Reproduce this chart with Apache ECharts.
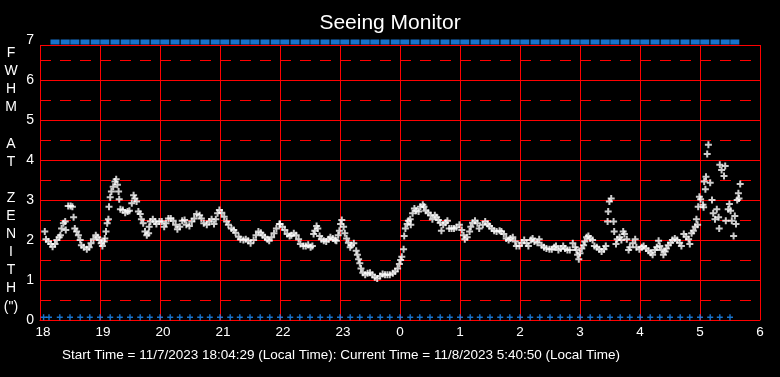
<!DOCTYPE html>
<html>
<head>
<meta charset="utf-8">
<script src="https://cdn.jsdelivr.net/npm/echarts@6/dist/echarts.min.js"></script>
<style>
html,body{margin:0;padding:0;background:#000;}
#chart{width:780px;height:377px;}
</style>
</head>
<body>
<div id="chart"></div>
<script>
// ---- data (x = hours since midnight of start day, 18..30 => 18:00 .. 06:00) ----
const xTickLabels = ['18','19','20','21','22','23','0','1','2','3','4','5','6'];
const yTickLabels = ['0','1','2','3','4','5','6','7'];
const titleText = 'Seeing Monitor';
const yTitleLines = ['F','W','H','M','','A','T','','Z','E','N','I','T','H','(")'];
const footerText = 'Start Time = 11/7/2023 18:04:29 (Local Time): Current Time = 11/8/2023 5:40:50 (Local Time)';

// FWHM seeing samples [time (h), FWHM (arcsec)]
const seeingPoints = [
[18.08,2.21],[18.10,2.02],[18.14,1.96],[18.18,1.90],[18.21,1.83],[18.25,1.90],[18.28,2.00],[18.32,2.07],[18.34,2.12],[18.36,2.29],
[18.39,2.42],[18.42,2.46],[18.43,2.25],[18.47,2.85],[18.51,2.85],[18.54,2.83],[18.56,2.57],[18.58,2.29],[18.61,2.21],[18.64,2.12],
[18.67,2.00],[18.69,1.87],[18.73,1.82],[18.78,1.77],[18.82,1.82],[18.85,1.92],[18.89,2.02],[18.93,2.12],[18.96,2.07],[18.99,2.00],
[19.02,1.92],[19.04,1.85],[19.07,1.96],[19.08,2.04],[19.10,2.21],[19.12,2.42],[19.14,2.52],[19.15,2.83],[19.17,3.07],[19.19,3.21],
[19.22,3.33],[19.25,3.46],[19.27,3.52],[19.29,3.38],[19.31,3.21],[19.32,3.02],[19.34,2.77],[19.38,2.75],[19.42,2.68],[19.46,2.71],
[19.49,2.73],[19.53,2.92],[19.56,3.12],[19.58,3.04],[19.61,2.96],[19.64,2.71],[19.67,2.65],[19.69,2.52],[19.72,2.42],[19.75,2.21],
[19.78,2.12],[19.81,2.17],[19.82,2.33],[19.84,2.46],[19.88,2.52],[19.92,2.46],[19.94,2.40],[19.99,2.46],[20.03,2.46],[20.07,2.33],
[20.10,2.42],[20.14,2.54],[20.18,2.54],[20.22,2.48],[20.26,2.38],[20.29,2.27],[20.33,2.33],[20.37,2.48],[20.41,2.50],[20.44,2.38],
[20.49,2.35],[20.53,2.46],[20.57,2.54],[20.61,2.65],[20.66,2.62],[20.69,2.54],[20.73,2.42],[20.78,2.38],[20.82,2.46],[20.86,2.52],
[20.90,2.40],[20.93,2.52],[20.96,2.67],[20.99,2.75],[21.03,2.68],[21.07,2.58],[21.11,2.46],[21.14,2.38],[21.19,2.29],[21.23,2.25],
[21.26,2.18],[21.31,2.08],[21.34,2.02],[21.39,2.00],[21.43,2.02],[21.47,1.98],[21.51,1.92],[21.56,2.00],[21.60,2.12],[21.64,2.21],
[21.68,2.18],[21.71,2.12],[21.75,2.07],[21.79,2.02],[21.82,1.98],[21.86,2.07],[21.90,2.17],[21.94,2.29],[21.99,2.40],
[22.00,2.40],[22.04,2.33],[22.08,2.25],[22.12,2.15],[22.16,2.10],[22.19,2.12],[22.23,2.17],[22.27,2.12],[22.31,2.02],[22.34,1.90],
[22.39,1.85],[22.43,1.85],[22.47,1.88],[22.51,1.82],[22.54,1.85],[22.56,2.15],[22.58,2.23],[22.61,2.35],[22.63,2.29],[22.66,2.10],
[22.69,2.02],[22.73,1.98],[22.77,1.96],[22.81,2.02],[22.84,2.07],[22.88,2.04],[22.92,2.00],[22.94,1.98],[22.97,2.12],[22.99,2.23],
[23.01,2.40],[23.03,2.50],[23.06,2.33],[23.08,2.17],[23.11,2.04],[23.14,1.93],[23.17,1.82],[23.19,1.87],[23.23,1.92],[23.27,1.73],
[23.29,1.63],[23.31,1.52],[23.33,1.42],[23.35,1.29],[23.38,1.18],[23.42,1.13],[23.46,1.17],[23.50,1.18],[23.54,1.13],[23.58,1.07],
[23.62,1.04],[23.67,1.10],[23.71,1.15],[23.75,1.13],[23.79,1.13],[23.83,1.13],[23.88,1.17],[23.92,1.21],[23.96,1.29],[23.99,1.40],
[24.01,1.50],[24.03,1.58],[24.06,1.77],[24.07,2.10],[24.09,2.29],[24.12,2.40],[24.14,2.48],[24.17,2.52],[24.18,2.38],[24.21,2.67],
[24.24,2.79],[24.27,2.73],[24.31,2.71],[24.34,2.83],[24.38,2.88],[24.40,2.83],[24.43,2.73],[24.47,2.68],[24.51,2.62],[24.54,2.52],
[24.58,2.62],[24.61,2.57],[24.64,2.50],[24.67,2.43],[24.69,2.23],[24.72,2.38],[24.76,2.43],[24.79,2.48],[24.82,2.29],[24.86,2.29],
[24.90,2.29],[24.94,2.32],[24.99,2.38],[25.03,2.25],[25.06,2.12],[25.08,2.02],[25.12,2.07],[25.16,2.21],[25.18,2.33],[25.21,2.43],
[25.25,2.48],[25.29,2.42],[25.32,2.29],
[25.38,2.38],[25.42,2.46],[25.46,2.40],[25.49,2.35],[25.53,2.29],[25.57,2.23],[25.61,2.21],[25.66,2.23],[25.69,2.21],[25.73,2.15],
[25.77,2.04],[25.81,2.00],[25.84,2.04],[25.88,2.07],[25.92,1.96],[25.94,1.85],[25.99,1.85],[26.03,1.93],[26.07,2.00],[26.11,1.92],
[26.14,1.85],[26.18,2.00],[26.21,2.04],[26.24,1.96],[26.29,1.93],[26.32,2.02],[26.36,1.87],[26.40,1.82],[26.44,1.79],[26.49,1.77],
[26.53,1.77],[26.57,1.82],[26.60,1.85],[26.64,1.75],[26.68,1.79],[26.72,1.85],[26.75,1.79],[26.79,1.75],[26.83,1.75],[26.88,1.92],
[26.92,1.82],[26.94,1.75],[26.96,1.63],[26.98,1.52],[27.00,1.67],[27.03,1.79],[27.06,1.87],[27.08,1.96],[27.11,2.07],[27.14,2.10],
[27.17,2.04],[27.21,2.00],[27.24,1.85],[27.28,1.82],[27.32,1.77],[27.36,1.71],[27.40,1.77],[27.43,1.85],[27.46,2.46],[27.47,2.71],
[27.49,2.96],[27.52,3.04],[27.56,2.46],[27.57,2.21],[27.60,1.90],[27.62,2.02],[27.66,2.07],[27.69,2.00],[27.72,2.21],[27.74,2.15],
[27.78,2.02],[27.81,1.75],[27.83,1.82],[27.88,1.92],[27.92,2.02],[27.94,1.82],[27.99,1.77],[28.03,1.82],[28.06,1.85],[28.10,1.79],
[28.14,1.73],[28.18,1.68],[28.21,1.63],[28.25,1.75],[28.28,1.82],[28.31,1.98],[28.33,1.85],[28.36,1.75],[28.39,1.63],[28.42,1.71],
[28.44,1.79],[28.47,1.87],[28.51,1.93],[28.54,2.00],[28.58,2.04],[28.62,2.00],[28.66,1.93],[28.69,1.85],[28.73,2.15],[28.77,2.08],
[28.81,2.02],[28.83,1.90],[28.86,2.17],[28.89,2.23],[28.92,2.33],[28.94,2.52],[28.96,2.38],[28.97,2.83],[28.99,3.08],[29.01,3.02],
[29.05,2.88],[29.06,2.82],[29.07,3.46],[29.09,3.27],[29.10,3.58],[29.12,4.15],[29.14,4.38],[29.17,3.43],[29.20,3.00],[29.22,2.67],
[29.25,2.52],[29.28,2.77],[29.31,2.57],[29.32,2.29],[29.33,3.88],[29.36,3.75],[29.40,3.60],[29.42,3.85],[29.43,2.48],[29.47,2.77],
[29.49,2.90],[29.51,2.73],[29.53,2.48],[29.56,2.10],[29.58,2.60],[29.60,2.40],[29.62,3.00],[29.64,3.17],[29.65,3.04],[29.67,3.40]
];

// status flags plotted along the top and bottom edges (times in h)
const topFlagLevel = 6.95;
const topFlagTimes = [18.25,18.42,18.58,18.75,18.92,19.08,19.25,19.42,19.58,19.75,19.92,20.08,20.25,20.42,20.58,20.75,20.92,21.08,21.25,21.42,21.58,21.75,21.92,22.08,22.25,22.42,22.58,22.75,22.92,23.08,23.25,23.42,23.58,23.75,23.92,24.08,24.25,24.42,24.58,24.75,24.92,25.08,25.25,25.42,25.58,25.75,25.92,26.08,26.25,26.42,26.58,26.75,26.92,27.08,27.25,27.42,27.58,27.75,27.92,28.08,28.25,28.42,28.58,28.75,28.92,29.08,29.25,29.42,29.58];
const bottomFlagLevel = 0.07;
const bottomFlagTimes = [18.06,18.15,18.33,18.50,18.67,18.83,19.00,19.17,19.33,19.50,19.67,19.83,20.00,20.17,20.33,20.50,20.67,20.83,21.00,21.17,21.33,21.50,21.67,21.83,22.00,22.17,22.33,22.50,22.67,22.83,23.00,23.17,23.33,23.50,23.67,23.83,24.00,24.17,24.33,24.50,24.67,24.83,25.00,25.17,25.33,25.50,25.67,25.83,26.00,26.17,26.33,26.50,26.67,26.83,27.00,27.17,27.33,27.50,27.67,27.83,28.00,28.17,28.33,28.50,28.67,28.83,29.00,29.17,29.33,29.50];

// ---- chart ----
const FONT = '"Liberation Sans", Arial, sans-serif';
const RED = '#ff0000';
const BLUE = '#1e90ff';
const PLUS = 'path://M5,0H8V5H13V8H8V13H5V8H0V5H5Z';
const PLUS_BOLD = 'path://M2.5,0H4.5V2.5H7V4.5H4.5V7H2.5V4.5H0V2.5H2.5Z';

const chart = echarts.init(document.getElementById('chart'), null, {renderer: 'canvas'});
chart.setOption({
  backgroundColor: '#000',
  animation: false,
  title: {
    text: titleText, left: 'center', top: 8,
    textStyle: {color: '#fff', fontSize: 21, fontWeight: 'normal', fontFamily: FONT}
  },
  grid: [
    {left: 40, right: 20, top: 40, bottom: 57},
    {left: 40, right: 20, top: 45, bottom: 57}
  ],
  xAxis: [
    {gridIndex: 0, type: 'value', min: 18, max: 30, interval: 1,
     axisLine: {show: true, lineStyle: {color: RED, width: 1}},
     axisTick: {show: false}, splitLine: {show: false},
     axisLabel: {color: '#fff', fontSize: 13.5, fontFamily: FONT, margin: 5,
       formatter: v => {
         const s = xTickLabels[Math.round(v - 18)];
         return s.length > 1 ? '{w|' + s + '}' : s;
       },
       rich: {w: {color: '#fff', fontSize: 13.5, fontFamily: FONT, padding: [0, 0, 0, 6]}}}},
    {gridIndex: 1, type: 'value', min: 18, max: 30, interval: 1,
     axisLine: {show: false}, axisTick: {show: false}, axisLabel: {show: false},
     splitLine: {show: true, lineStyle: {color: RED, width: 1}}}
  ],
  yAxis: [
    {gridIndex: 0, type: 'value', min: 0, max: 7, interval: 1,
     axisLine: {show: false}, axisTick: {show: false},
     axisLabel: {color: '#fff', fontSize: 14, fontFamily: FONT, margin: 6,
       formatter: v => yTickLabels[Math.round(v)]},
     splitLine: {show: true, showMaxLine: false, lineStyle: {color: RED, width: 1}},
     minorTick: {show: false, splitNumber: 2},
     minorSplitLine: {show: true, lineStyle: {color: RED, width: 1, type: [11, 9]}}},
    {gridIndex: 1, type: 'value', min: 0, max: 1, interval: 1,
     axisLine: {show: false}, axisTick: {show: false}, axisLabel: {show: false},
     splitLine: {show: true, lineStyle: {color: RED, width: 1}}}
  ],
  series: [
    {type: 'scatter', xAxisIndex: 0, yAxisIndex: 0, silent: true,
     symbol: 'rect', symbolSize: [9, 5],
     itemStyle: {color: BLUE},
     data: topFlagTimes.map(t => [t, topFlagLevel])},
    {type: 'scatter', xAxisIndex: 0, yAxisIndex: 0, silent: true,
     symbol: PLUS, symbolSize: 6,
     itemStyle: {color: BLUE},
     data: bottomFlagTimes.map(t => [t, bottomFlagLevel])},
    {type: 'scatter', xAxisIndex: 0, yAxisIndex: 0, silent: true,
     symbol: PLUS_BOLD, symbolSize: 7,
     itemStyle: {color: '#ffffff'},
     data: seeingPoints}
  ],
  graphic: [
    {type: 'text', x: 11, y: 180, silent: true,
     style: {text: yTitleLines.join('\n'), fill: '#fff', font: '14px ' + FONT,
       textAlign: 'center', textVerticalAlign: 'middle', lineHeight: 18.1}},
    {type: 'text', x: 62, y: 355, silent: true,
     style: {text: footerText, fill: '#fff', font: '13.5px ' + FONT,
       textAlign: 'left', textVerticalAlign: 'middle'}}
  ]
});
</script>
</body>
</html>
